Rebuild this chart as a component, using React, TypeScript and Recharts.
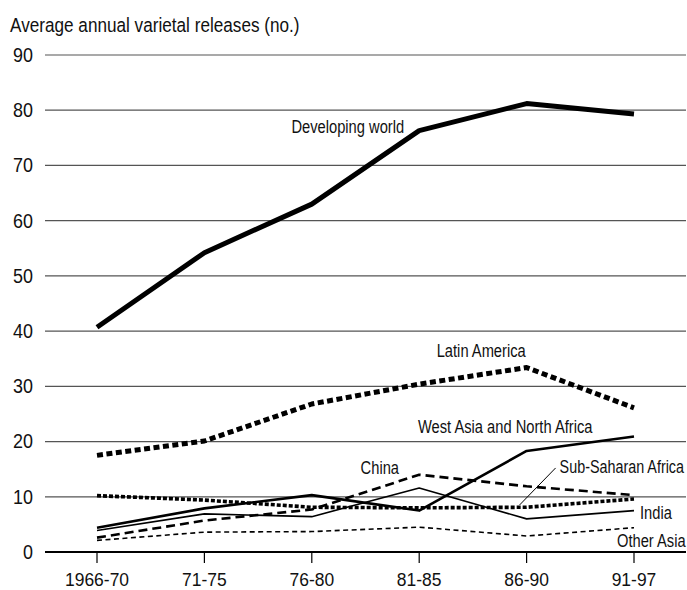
import React from 'react';
import {
  LineChart,
  Line,
  XAxis,
  YAxis,
  CartesianGrid,
  ReferenceDot,
} from 'recharts';

const categories = ['1966-70', '71-75', '76-80', '81-85', '86-90', '91-97'];
const developingWorld = [40.7, 54.2, 63.0, 76.3, 81.2, 79.3];
const latinAmerica = [17.5, 20.1, 26.8, 30.4, 33.4, 26.1];
const westAsiaNorthAfrica = [4.4, 7.9, 10.3, 7.5, 18.3, 20.9];
const china = [2.6, 5.7, 7.7, 14.0, 11.9, 10.3];
const subSaharanAfrica = [10.2, 9.4, 8.1, 8.0, 8.1, 9.6];
const india = [3.9, 6.9, 6.4, 11.6, 6.0, 7.5];
const otherAsia = [2.1, 3.6, 3.7, 4.5, 2.9, 4.4];
const yTicks = [0, 10, 20, 30, 40, 50, 60, 70, 80, 90];

const FONT = "'Liberation Sans', Arial, sans-serif";

const data = categories.map((period, i) => ({
  period,
  developingWorld: developingWorld[i],
  latinAmerica: latinAmerica[i],
  westAsiaNorthAfrica: westAsiaNorthAfrica[i],
  china: china[i],
  subSaharanAfrica: subSaharanAfrica[i],
  india: india[i],
  otherAsia: otherAsia[i],
}));

// series styling
const series = [
  { key: 'otherAsia', width: 1.6, dash: '5 3.5' },
  { key: 'india', width: 1.6, dash: undefined },
  { key: 'china', width: 2.6, dash: '9 5' },
  { key: 'subSaharanAfrica', width: 3.6, dash: '4 2' },
  { key: 'westAsiaNorthAfrica', width: 2.6, dash: undefined },
  { key: 'latinAmerica', width: 5, dash: '6 3.5' },
  { key: 'developingWorld', width: 5, dash: undefined },
];

// in-chart labels, anchored to a category / value with a pixel nudge
const labels = [
  { text: 'Developing world', x: '76-80', y: 77, dx: 36, anchor: 'middle' },
  { text: 'Latin America', x: '81-85', y: 36.5, dx: 62, anchor: 'middle' },
  { text: 'West Asia and North Africa', x: '81-85', y: 22.7, dx: 86, anchor: 'middle' },
  { text: 'China', x: '76-80', y: 15.2, dx: 68, anchor: 'middle' },
  { text: 'Sub-Saharan Africa', x: '86-90', y: 15.4, dx: 33, anchor: 'start', leader: true },
  { text: 'India', x: '91-97', y: 7.2, dx: 6, anchor: 'start' },
  { text: 'Other Asia', x: '91-97', y: 2.1, dx: -17, anchor: 'start' },
];

// condensed-looking text: squeeze glyphs horizontally around (x, y)
function NarrowText({ x, y, sx, size, anchor = 'start', dy, children }: any) {
  return (
    <g transform={`translate(${x},${y}) scale(${sx},1)`}>
      <text x={0} y={0} dy={dy} textAnchor={anchor} fill="#111" fontSize={size} fontFamily={FONT}>
        {children}
      </text>
    </g>
  );
}

const XTick = (p: any) => (
  <NarrowText x={p.x} y={p.y} sx={0.92} size={19} anchor="middle" dy="0.71em">
    {p.payload.value}
  </NarrowText>
);

const YTick = (p: any) => (
  <NarrowText x={p.x} y={p.y} sx={0.92} size={19.5} anchor="end" dy="0.355em">
    {p.payload.value}
  </NarrowText>
);

export default function App() {
  return (
    <div style={{ position: 'absolute', left: 0, top: 0, width: 687, height: 590, background: '#fff' }}>
      <LineChart width={687} height={590} data={data} margin={{ top: 55, right: 1, bottom: 0, left: 0 }}>
        <CartesianGrid vertical={false} stroke="#555" strokeWidth={1.2} />
        <XAxis
          dataKey="period"
          height={38}
          padding={{ left: 52, right: 52 }}
          axisLine={{ stroke: '#000', strokeWidth: 2.2 }}
          tickLine={{ stroke: '#000', strokeWidth: 1.2 }}
          tickSize={11}
          tickMargin={10}
          tick={<XTick />}
          interval={0}
        />
        <YAxis
          width={45}
          domain={[0, 90]}
          ticks={yTicks}
          axisLine={false}
          tickLine={false}
          tickSize={6}
          tickMargin={6}
          tick={<YTick />}
          label={{
            content: () => (
              <NarrowText x={10} y={32} sx={0.88} size={19.5}>
                Average annual varietal releases (no.)
              </NarrowText>
            ),
          }}
        />
        {series.map((s) => (
          <Line
            key={s.key}
            type="linear"
            dataKey={s.key}
            stroke="#000"
            strokeWidth={s.width}
            strokeDasharray={s.dash}
            strokeLinejoin="round"
            dot={false}
            activeDot={false}
            isAnimationActive={false}
          />
        ))}
        {labels.map((l) => (
          <ReferenceDot
            key={l.text}
            x={l.x}
            y={l.y}
            r={1}
            shape={(p: any) => (
              <g>
                {l.leader && (
                  <line x1={p.cx - 7} y1={p.cy + 38} x2={p.cx + 29} y2={p.cy + 1} stroke="#000" strokeWidth={1} />
                )}
                <NarrowText
                  x={p.cx + l.dx}
                  y={p.cy}
                  sx={l.leader ? 0.82 : 0.84}
                  size={17.5}
                  anchor={l.anchor}
                  dy="0.36em"
                >
                  {l.text}
                </NarrowText>
              </g>
            )}
          />
        ))}
      </LineChart>
    </div>
  );
}
